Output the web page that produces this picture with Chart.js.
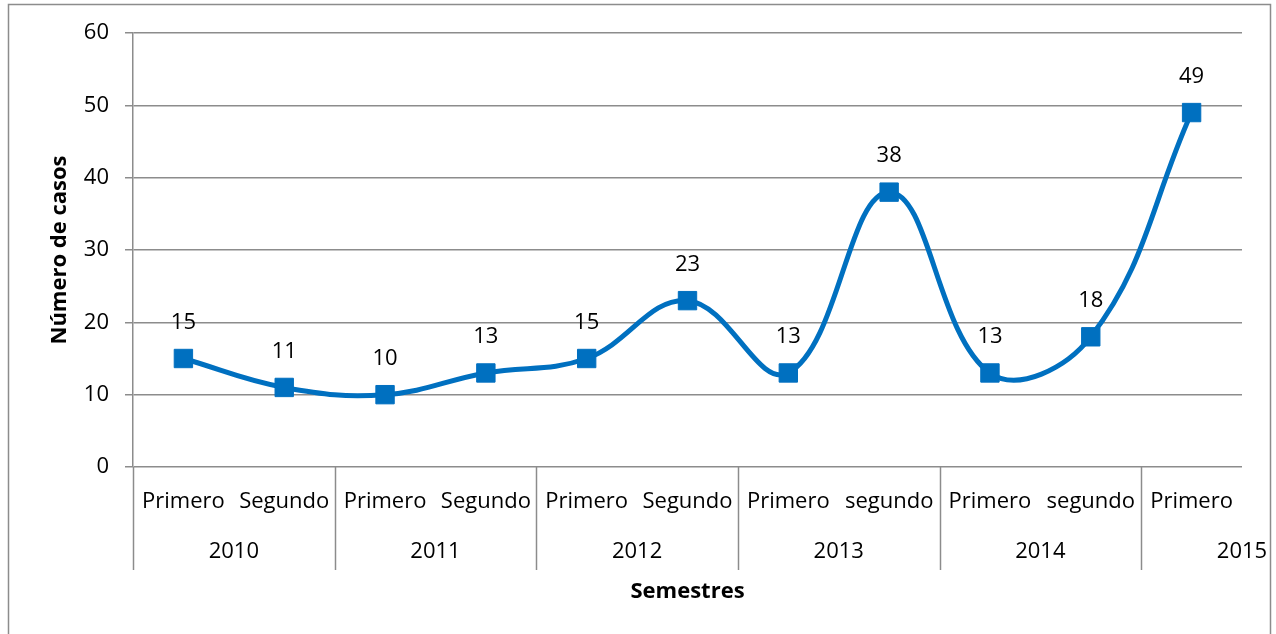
<!DOCTYPE html>
<html>
<head>
<meta charset="utf-8">
<script src="https://cdn.jsdelivr.net/npm/chart.js@4"></script>
<style>
  html, body { margin: 0; padding: 0; background: #fff; }
  #wrap { width: 1276px; height: 634px; position: relative; }
</style>
</head>
<body>
<div id="wrap"><canvas id="casos"></canvas></div>
<script>
const semestres = ['Primero', 'Segundo', 'Primero', 'Segundo', 'Primero', 'Segundo',
                   'Primero', 'segundo', 'Primero', 'segundo', 'Primero'];
const anios = ['2010', '2011', '2012', '2013', '2014', '2015'];
const anioGrupos = [2, 2, 2, 2, 2, 1]; // semestres por año
const casos = [15, 11, 10, 13, 15, 23, 13, 38, 13, 18, 49];

const FONT = '"Open Sans", sans-serif';
const GRIS = '#8c8c8c';
const AZUL = '#0070C0';

// etiquetas de categorías, años, títulos y marco
const ejeJerarquico = {
    id: 'ejeJerarquico',
    afterDraw(chart) {
        const c = chart.ctx;
        const x = chart.scales.x;
        const area = chart.chartArea;
        const paso = x.getPixelForValue(1) - x.getPixelForValue(0);
        c.save();
        // marco exterior
        c.strokeStyle = GRIS;
        c.lineWidth = 1.5;
        c.beginPath();
        c.moveTo(8.5, 640); c.lineTo(8.5, 4.5); c.lineTo(1270.5, 4.5); c.lineTo(1270.5, 640);
        c.stroke();

        c.fillStyle = '#000';
        c.font = '22px ' + FONT;
        c.textAlign = 'center';
        c.textBaseline = 'middle';
        semestres.forEach((s, i) => c.fillText(s, x.getPixelForValue(i), area.bottom + 35));

        // separadores y años
        c.lineWidth = 1.5;
        c.strokeStyle = GRIS;
        let idx = 0;
        anioGrupos.forEach((n, g) => {
            const x0 = x.getPixelForValue(idx) - paso / 2;
            const x1 = x.getPixelForValue(idx + n - 1) + paso / 2;
            c.beginPath();
            c.moveTo(Math.round(x0) + 0.5, area.bottom);
            c.lineTo(Math.round(x0) + 0.5, area.bottom + 103);
            c.stroke();
            const cx = g === anioGrupos.length - 1 ? x1 : (x0 + x1) / 2;
            c.fillText(anios[g], cx, area.bottom + 85);
            idx += n;
        });

        c.font = 'bold 22px ' + FONT;
        c.fillText('Semestres', (area.left + area.right) / 2, area.bottom + 125);
        c.translate(60, (area.top + area.bottom) / 2);
        c.rotate(-Math.PI / 2);
        c.fillText('Número de casos', 0, 0);
        c.restore();
    }
};

// valores sobre los puntos
const etiquetasDatos = {
    id: 'etiquetasDatos',
    afterDatasetsDraw(chart) {
        const c = chart.ctx;
        const meta = chart.getDatasetMeta(0);
        c.save();
        c.fillStyle = '#000';
        c.font = '22px ' + FONT;
        c.textAlign = 'center';
        c.textBaseline = 'middle';
        meta.data.forEach((pt, i) => c.fillText(String(casos[i]), pt.x, pt.y - 36));
        c.restore();
    }
};

new Chart(document.getElementById('casos'), {
    type: 'line',
    data: {
        labels: semestres,
        datasets: [{
            data: casos,
            borderColor: AZUL,
            backgroundColor: AZUL,
            borderWidth: 5,
            tension: 0.4,
            pointStyle: 'rect',
            pointRadius: 13,
            pointBorderWidth: 1,
            pointHoverRadius: 13
        }]
    },
    options: {
        responsive: true,
        maintainAspectRatio: false,
        animation: false,
        layout: { padding: { left: 0, top: 33, right: 34, bottom: 167 } },
        scales: {
            x: { display: false, offset: true },
            y: {
                min: 0,
                max: 60,
                afterFit: s => { s.width = 133; },
                ticks: { stepSize: 10, color: '#000', padding: 16, font: { family: FONT, size: 22 } },
                grid: { color: GRIS, lineWidth: 1.5, tickLength: 8 },
                border: { color: GRIS, width: 1.5 }
            }
        },
        plugins: {
            legend: { display: false },
            tooltip: { enabled: false }
        }
    },
    plugins: [ejeJerarquico, etiquetasDatos]
});
</script>
</body>
</html>
